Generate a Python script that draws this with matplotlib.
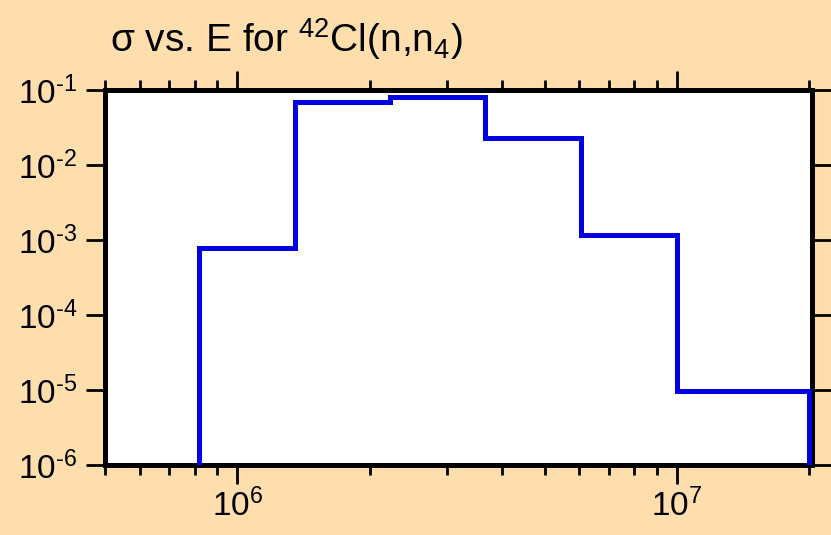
import matplotlib
matplotlib.use('Agg')
import matplotlib.pyplot as plt
import matplotlib.ticker as ticker
import numpy as np

plt.rcParams['font.family'] = ['Liberation Sans', 'DejaVu Sans']
plt.rcParams['mathtext.fontset'] = 'custom'
plt.rcParams['mathtext.rm'] = 'Liberation Sans'
plt.rcParams['mathtext.it'] = 'Liberation Sans:italic'
plt.rcParams['mathtext.bf'] = 'Liberation Sans:bold'
plt.rcParams['axes.unicode_minus'] = False

# Bin edges (eV) and cross sections per bin
energy_edges = [8.2e5, 1.35e6, 2.22e6, 3.66e6, 6.04e6, 1.0e7, 2.0e7]
sigma = [7.9e-4, 0.069, 0.081, 0.023, 1.17e-3, 9.7e-6]

bg = '#FFDEAD'

fig = plt.figure(figsize=(8.31, 5.35), dpi=100, facecolor=bg)
ax = fig.add_axes([105 / 831, 1 - 465 / 535, (812 - 105) / 831, (465 - 90) / 535])
ax.set_facecolor('white')

# step outline: start and end at the bottom of the axis
ymin, ymax = 1e-6, 1e-1
xs = [energy_edges[0]]
ys = [ymin]
for i, s in enumerate(sigma):
    xs += [energy_edges[i], energy_edges[i + 1]]
    ys += [s, s]
xs.append(energy_edges[-1])
ys.append(ymin)
ax.plot(xs, ys, color='#0000E0', lw=3.6, solid_joinstyle='miter', zorder=4)

ax.set_xscale('log')
ax.set_yscale('log')
ax.set_xlim(5e5, 2.03e7)
ax.set_ylim(ymin, ymax)

for sp in ax.spines.values():
    sp.set_linewidth(3.6)
    sp.set_color('black')
    sp.set_zorder(3)


def pow_label(v, pos):
    e = int(round(np.log10(v)))
    if e < 0:
        return r'$10^{\text{-}%d}$' % -e
    return r'$10^{%d}$' % e


ax.xaxis.set_major_locator(ticker.LogLocator(base=10, numticks=10))
ax.xaxis.set_minor_locator(ticker.LogLocator(base=10, subs=range(2, 10), numticks=20))
ax.xaxis.set_minor_formatter(ticker.NullFormatter())
ax.xaxis.set_major_formatter(ticker.FuncFormatter(pow_label))
ax.yaxis.set_major_locator(ticker.LogLocator(base=10, numticks=10))
ax.yaxis.set_minor_locator(ticker.NullLocator())
ax.yaxis.set_major_formatter(ticker.FuncFormatter(pow_label))

ax.tick_params(which='both', direction='out', top=True, right=True,
               labeltop=False, labelright=False, width=2, color='black')
ax.tick_params(which='major', length=14, labelsize=24, pad=3)
ax.tick_params(axis='y', which='major', pad=6)
ax.tick_params(which='minor', length=7)

fig.text(110 / 831, 1 - 52 / 535, r'σ vs. E for $^{42}$Cl(n,n$_{4}$)',
         fontsize=28, ha='left', va='baseline')

fig.savefig('out.png', dpi=100, facecolor=bg)
